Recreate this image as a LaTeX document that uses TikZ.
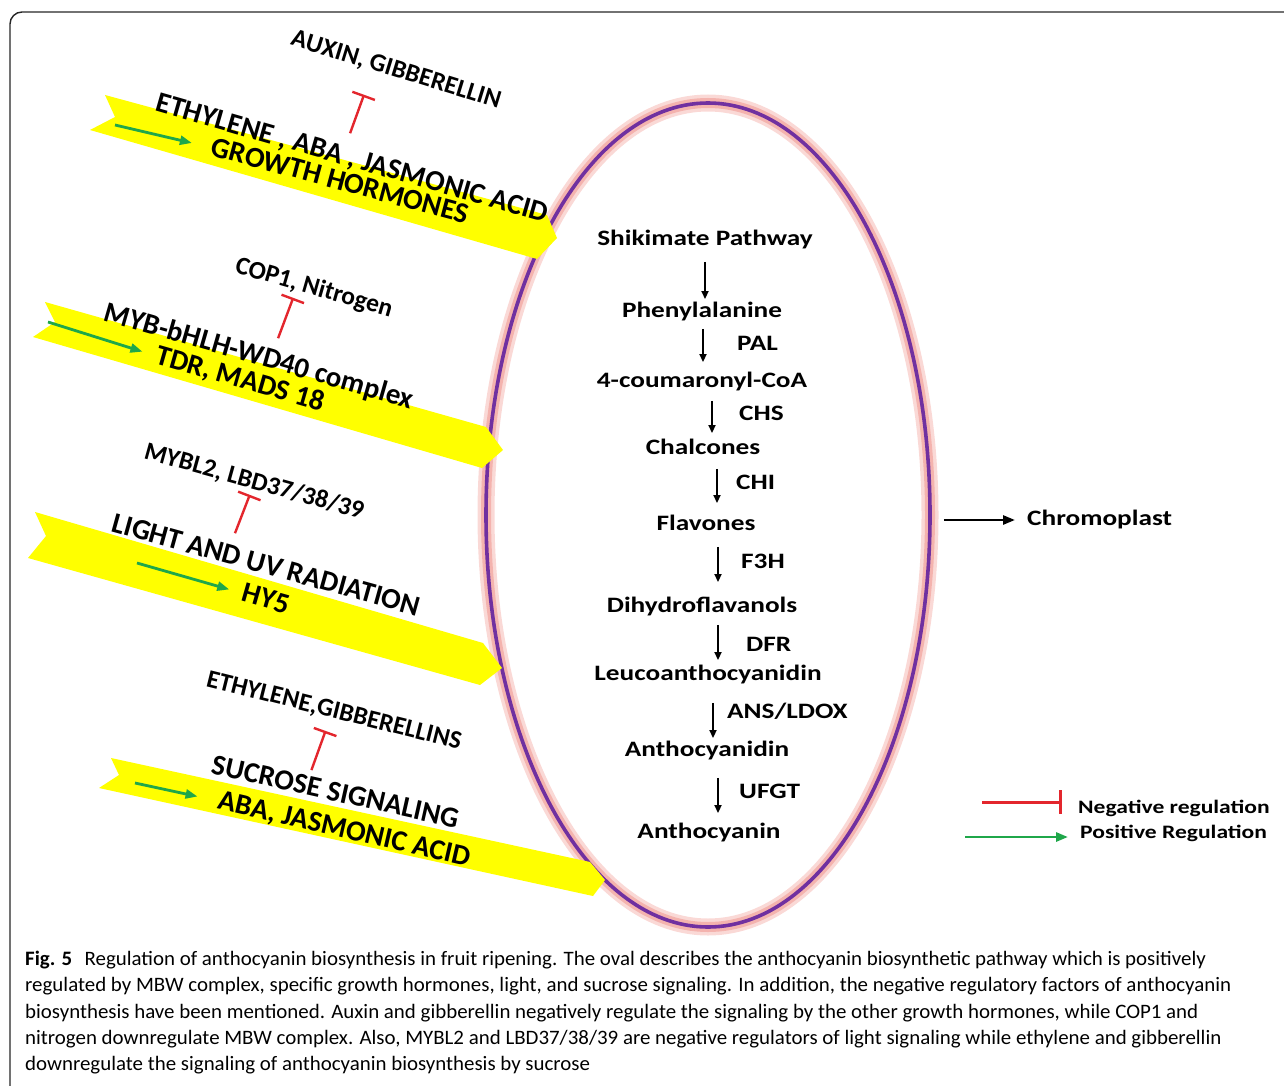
\documentclass[tikz,border=0pt]{standalone}
\usepackage{fontspec}
\setmainfont{Carlito}
\newfontfamily\widefont[FakeStretch=1.24]{Carlito}
\newfontfamily\capfont[FakeStretch=1.02]{Carlito}
\usetikzlibrary{arrows.meta, positioning, shapes.geometric, calc}

\definecolor{bandyellow}{HTML}{FFFF00}
\definecolor{posgreen}{HTML}{1FA74A}
\definecolor{negred}{HTML}{E3262D}
\definecolor{ovalpurple}{HTML}{7030A0}
\definecolor{ovalglow}{HTML}{F4B3AE}

\begin{document}
\begin{tikzpicture}[x=1pt, y=-1pt,
    band/.style={fill=bandyellow},
    factor/.style={font=\bfseries\fontsize{25.5}{27}\selectfont, inner sep=0pt, text height=17pt, text depth=3pt},
    signal/.style={font=\bfseries\fontsize{29}{31}\selectfont, inner sep=0pt, text height=19pt, text depth=3pt},
    target/.style={font=\bfseries\fontsize{29}{31}\selectfont, inner sep=0pt, text height=19pt, text depth=3.5pt},
    compound/.style={font=\widefont\bfseries\fontsize{22}{24}\selectfont, inner sep=2pt, text height=15pt, text depth=4.5pt},
    enzyme/.style={compound, inner sep=0pt, anchor=west},
    legend/.style={font=\widefont\bfseries\fontsize{19}{21}\selectfont, inner sep=0pt, anchor=west},
    flow/.style={-{Triangle[length=8pt,width=7pt]}, line width=1.8},
    outflow/.style={-{Triangle[length=12pt,width=9pt]}, line width=2.6},
    promote/.style={-{Triangle[length=12pt,width=9pt]}, line width=2.8, posgreen},
    repress/.style={-{Bar[width=24pt]}, line width=2.4, negred},
    oval/.style={ellipse, draw=ovalpurple, line width=3.6, minimum width=444pt, minimum height=824pt, inner sep=0pt,
        preaction={draw=ovalglow!50, line width=17}, preaction={draw=ovalglow, line width=10}}
]
\useasboundingbox (0,0) rectangle (1284,1086);

% Figure frame
\draw[line width=1.4, rounded corners=12pt, gray!30!black] (10,1100) -- (10,12) -- (1300,12);

% Oval with the biosynthetic pathway
\node[oval] (oval) at (708,515) {};

% Yellow signal bands
\fill[band] (105,95) -- (115,117) -- (90,130) -- (537,259) -- (557,238) -- (547,215) -- cycle;
\fill[band] (45,302) -- (55,322) -- (33,337) -- (482,468) -- (503,450) -- (486,427) -- cycle;
\fill[band] (35,512) -- (46,536) -- (28,558) -- (480,685) -- (502,668) -- (483,643) -- cycle;
\fill[band] (111,758) -- (119,775) -- (99,788) -- (593,896) -- (605,880) -- (590,862) -- cycle;

% Growth hormones
\node[factor, rotate=-17] (auxin) at (396,70) {AUXIN, GIBBERELLIN};
\node[signal, rotate=-16] (ethylene) at (352,159) {ETHYLENE , ABA , JASMONIC ACID};
\node[target, rotate=-15] (growth) at (340,182) {GROWTH HORMONES};

% MBW complex
\node[factor, rotate=-16] (cop) at (314,288) {COP1, Nitrogen};
\node[signal, rotate=-16] (mbw) at (259,357) {MYB-bHLH-WD40 complex};
\node[target, rotate=-16] (tdr) at (240,380) {TDR, MADS 18};

% Light
\node[factor, rotate=-15.5] (mybl) at (254,482) {MYBL2, LBD37/38/39};
\node[signal, rotate=-15.5] (light) at (266,566) {LIGHT AND UV RADIATION};
\node[target, rotate=-16] (hy) at (266,600) {HY5};

% Sucrose
\node[factor, rotate=-14] (ethgib) at (334,711) {ETHYLENE,GIBBERELLINS};
\node[signal, rotate=-12.6] (sucrose) at (335,793) {SUCROSE SIGNALING};
\node[target, rotate=-13] (aba) at (344,830) {ABA, JASMONIC ACID};

% Positive regulation inside the bands
\coordinate (g1) at (115,125);
\coordinate (g2) at (48,322);
\coordinate (g3) at (137,563);
\coordinate (g4) at (135,783);
\draw[promote] (g1) -- ($(g1)!79pt!(growth.west)$);
\draw[promote] (g2) -- ($(g2)!99pt!(tdr.west)$);
\draw[promote] (g3) -- ($(g3)!96pt!(hy.west)$);
\draw[promote] (g4) -- ($(g4)!64pt!(aba.west)$);

% Negative regulation above the bands
\draw[repress] ([shift={(-5,-15)}]ethylene.north) -- ([shift={(-29,15)}]auxin.south);
\draw[repress] ([shift={(16,-8)}]mbw.north) -- ([shift={(-18,0)}]cop.south);
\draw[repress] ([shift={(-34,-22)}]light.north) -- ([shift={(-1.5,3)}]mybl.south);
\draw[repress] ([shift={(-26,-12)}]sucrose.north) -- ([shift={(-6,10)}]ethgib.south);

% Pathway steps
\foreach \i/\x/\y/\txt in {0/705/240/Shikimate Pathway, 1/702/312/Phenylalanine,
    2/702/382/4-coumaronyl-CoA, 3/703/449/Chalcones, 4/706/525/Flavones,
    5/702/607/Dihydroflavanols, 6/708/675/Leucoanthocyanidin,
    7/707/751/Anthocyanidin, 8/709/833/Anthocyanin}
    \node[compound] (c\i) at (\x,\y) {\txt};

\foreach \i/\j/\ax/\sa/\sb in {0/1/705/10/1, 1/2/703/5/8, 2/3/712/7/4, 3/4/717/8/10,
    4/5/718/10/13, 5/6/718/6/3, 6/7/713/16/1, 7/8/718/15/8} {
    \coordinate (ax) at (\ax,0);
    \draw[flow, shorten <=\sa, shorten >=\sb] (c\i.south -| ax) -- (c\j.north -| ax);
}

% Enzymes
\foreach \j/\ex/\ey/\txt in {2/737/345/PAL, 3/739/415/CHS, 4/736/484/CHI, 5/741/563/F3H,
    6/746/646/DFR, 7/727/713/ANS\slash LDOX, 8/739/793/UFGT}
    \node[enzyme] (e\j) at (\ex,\ey) {\txt};

% Chromoplast
\node[compound, anchor=west, inner sep=0pt] (chromo) at (1027,520) {Chromoplast};
\draw[outflow, shorten <=12, shorten >=12] (oval.east |- chromo.west) -- (chromo.west);

% Legend
\node[legend] (neglab) at (1078,808) {Negative regulation};
\node[legend] (poslab) at (1080,833) {Positive Regulation};
\coordinate (legneg) at (982,802);
\coordinate (legpos) at (965,837);
\draw[repress, line width=3, shorten >=16] (legneg) -- (legneg -| neglab.west);
\draw[promote, shorten >=12] (legpos) -- (legpos -| poslab.west);

% Caption
\node[anchor=north west, inner sep=0pt, align=left, font=\capfont\fontsize{20.5}{26.3}\selectfont] (caption) at (25,951)
{{\bfseries Fig. 5}\hspace{0.6em}Regulation of anthocyanin biosynthesis in fruit ripening. The oval describes the anthocyanin biosynthetic pathway which is positively\\
regulated by MBW complex, specific growth hormones, light, and sucrose signaling. In addition, the negative regulatory factors of anthocyanin\\
biosynthesis have been mentioned. Auxin and gibberellin negatively regulate the signaling by the other growth hormones, while COP1 and\\
nitrogen downregulate MBW complex. Also, MYBL2 and LBD37/38/39 are negative regulators of light signaling while ethylene and gibberellin\\
downregulate the signaling of anthocyanin biosynthesis by sucrose};

\end{tikzpicture}
\end{document}
